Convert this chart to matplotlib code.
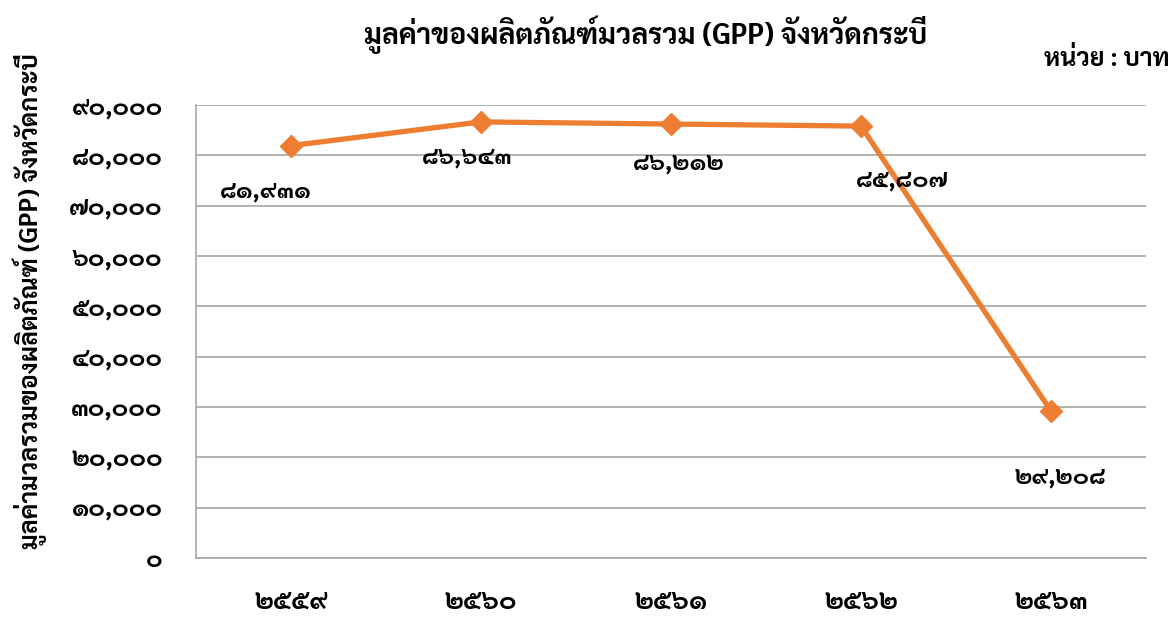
import matplotlib
matplotlib.use("Agg")
import matplotlib.pyplot as plt
from matplotlib import font_manager
from matplotlib.ft2font import FT2Font
from matplotlib.ticker import FuncFormatter

# data
years = [2559, 2560, 2561, 2562, 2563]
gpp = [81931, 86643, 86212, 85807, 29208]
y_ticks = list(range(0, 90001, 10000))

title = "มูลค่าของผลิตภัณฑ์มวลรวม (GPP) จังหวัดกระบี่"
y_label = "มูลค่ามวลรวมของผลิตภัณฑ์ (GPP) จังหวัดกระบี่"
unit_text = "หน่วย : บาท"

# pixel offsets of the data labels relative to their points
label_offsets = [(-25, -46), (-14, -35), (8, -39), (41, -54), (9, -66)]

THAI_DIGITS = str.maketrans("0123456789", "๐๑๒๓๔๕๖๗๘๙")
PREFERRED = ["Sarabun", "IBM Plex Sans Thai Looped", "Noto Sans Thai", "Loma"]


def find_thai_families():
    """Look through installed fonts for any that carry Thai glyphs."""
    found = []
    for entry in font_manager.fontManager.ttflist:
        try:
            cmap = FT2Font(entry.fname).get_charmap()
        except Exception:
            continue
        if ord("ก") in cmap and ord("๙") in cmap and entry.name not in found:
            found.append(entry.name)
    return found


thai_fams = find_thai_families()
chosen = [f for f in PREFERRED if f in thai_fams] or thai_fams[:1]
plt.rcParams["font.family"] = chosen[:1] + ["DejaVu Sans"]


def thai_num(v, comma=True):
    s = f"{int(round(v)):,}" if comma else str(int(v))
    return s.translate(THAI_DIGITS)


orange = "#ED7D31"
grid_c = "#A6A6A6"

fig = plt.figure(figsize=(11.74, 6.18), dpi=100)
ax = fig.add_axes([196 / 1174, 60 / 618, 950 / 1174, 453 / 618])

x = list(range(len(years)))
ax.plot(x, gpp, color=orange, lw=3.8, marker="D", markersize=11,
        markeredgecolor=orange, zorder=3)

for xi, v, (dx, dy) in zip(x, gpp, label_offsets):
    ax.annotate(thai_num(v), (xi, v), xytext=(dx * 0.72, dy * 0.72),
                textcoords="offset points", ha="center", va="center",
                fontsize=17.5, fontweight="bold")

ax.set_xlim(-0.5, len(years) - 0.5)
ax.set_ylim(0, 90000)
ax.set_yticks(y_ticks)
ax.yaxis.set_major_formatter(FuncFormatter(lambda v, p: thai_num(v)))
ax.set_xticks(x)
ax.set_xticklabels([thai_num(yr, comma=False) for yr in years])
ax.grid(axis="y", color=grid_c, lw=1.2)
ax.set_axisbelow(True)
for side in ("top", "right"):
    ax.spines[side].set_visible(False)
for side in ("left", "bottom"):
    ax.spines[side].set_color(grid_c)
    ax.spines[side].set_linewidth(1.2)
ax.tick_params(axis="y", length=0, pad=24, labelsize=18)
ax.tick_params(axis="x", length=0, pad=22, labelsize=19)
for lab in ax.get_xticklabels() + ax.get_yticklabels():
    lab.set_fontweight("bold")

fig.text(30 / 1174, 1 - 301 / 618, y_label, rotation=90, ha="center",
         va="center", fontsize=18, fontweight="bold")
fig.text(646 / 1174, 1 - 35 / 618, title, ha="center", va="center",
         fontsize=20.5, fontweight="bold")
fig.text(1170 / 1174, 1 - 60 / 618, unit_text, ha="right", va="center",
         fontsize=18, fontweight="bold")

fig.savefig("out.png", dpi=100)
